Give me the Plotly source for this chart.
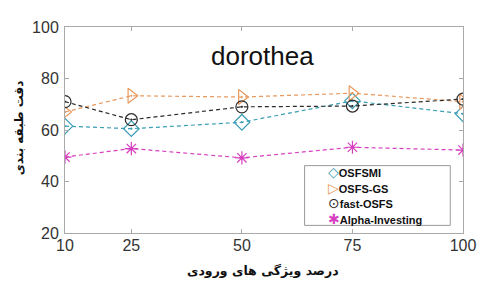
import plotly.graph_objects as go

x_vals = [10, 25, 50, 75, 100]
osfsmi = [61.5, 60.5, 63, 71.3, 66.3]
osfs_gs = [67, 73.3, 72.8, 74.3, 71]
fast_osfs = [71, 64, 69, 69.3, 72]
alpha_inv = [49.5, 52.8, 49.2, 53.3, 52.2]
series_names = ["OSFSMI", "OSFS-GS", "fast-OSFS", "Alpha-Investing"]
title_text = "dorothea"
x_title = "درصد ویژگی های ورودی"
y_title = "دقت طبقه بندی"

colors = ["#3a9db4", "#e8995e", "#2a2a2a", "#d63fbf"]
symbols = ["diamond-open-dot", "triangle-right-open-dot", "circle-open-dot", "asterisk-open"]
sizes = [12, 13, 12, 11]
legend_glyphs = ["◇", "▷", "⊙", "✱"]

fig = go.Figure()
for name, ys, c, s, sz in zip(series_names, [osfsmi, osfs_gs, fast_osfs, alpha_inv], colors, symbols, sizes):
    fig.add_trace(go.Scatter(
        x=x_vals, y=ys, name=name, mode="lines+markers", showlegend=False,
        line=dict(color=c, width=1.2, dash="4px,3px"),
        marker=dict(symbol=s, size=sz, color=c, line=dict(color=c, width=1.2)),
    ))

legend_lines = [
    f'<span style="color:{c};font-weight:normal;font-size:14px">{g}</span><span style="font-size:11px">{n}</span>'
    for n, c, g in zip(series_names, colors, legend_glyphs)
]

annotations = [
    dict(text=title_text, x=0.495, y=0.86, xref="paper", yref="paper",
         xanchor="center", yanchor="middle",
         showarrow=False, font=dict(size=26, color="#111")),
    dict(text=y_title, x=-0.115, y=0.51, xref="paper", yref="paper", textangle=-90,
         xanchor="center", yanchor="middle",
         showarrow=False, font=dict(size=12, color="#111", family="DejaVu Sans", weight="bold")),
    dict(text=x_title, x=0.498, y=-0.182, xref="paper", yref="paper",
         xanchor="center", yanchor="middle",
         showarrow=False, font=dict(size=12.5, color="#111", family="DejaVu Sans", weight="bold")),
    dict(text="<br>".join(legend_lines), x=0.655, y=0.18, xref="paper", yref="paper",
         xanchor="left", yanchor="middle", align="left", showarrow=False,
         font=dict(size=12, color="#111", family="Liberation Sans, DejaVu Sans", weight="bold")),
]

fig.update_layout(
    width=479, height=276,
    margin=dict(l=57, r=15, t=11, b=51),
    paper_bgcolor="white", plot_bgcolor="white",
    font=dict(family="Liberation Sans, Arial", color="#333"),
    showlegend=False,
    annotations=annotations,
    shapes=[dict(type="rect", xref="paper", yref="paper", x0=0.602, x1=0.968, y0=0.037, y1=0.327,
                 line=dict(color="#999", width=1), fillcolor="white", layer="above")],
)
fig.update_xaxes(
    range=[10, 100], tickvals=x_vals, ticktext=[str(v) for v in x_vals],
    showgrid=False, zeroline=False, showline=True, linecolor="#aaa", linewidth=1,
    mirror="ticks", ticks="inside", ticklen=4, tickcolor="#aaa",
    tickfont=dict(size=16, color="#333"), ticklabelstandoff=-2,
)
fig.update_yaxes(
    range=[20, 100], tickvals=[20, 40, 60, 80, 100],
    showgrid=False, zeroline=False, showline=True, linecolor="#aaa", linewidth=1,
    mirror="ticks", ticks="inside", ticklen=4, tickcolor="#aaa",
    tickfont=dict(size=16, color="#333"), ticklabelstandoff=2,
)
fig.write_html("out.html")
